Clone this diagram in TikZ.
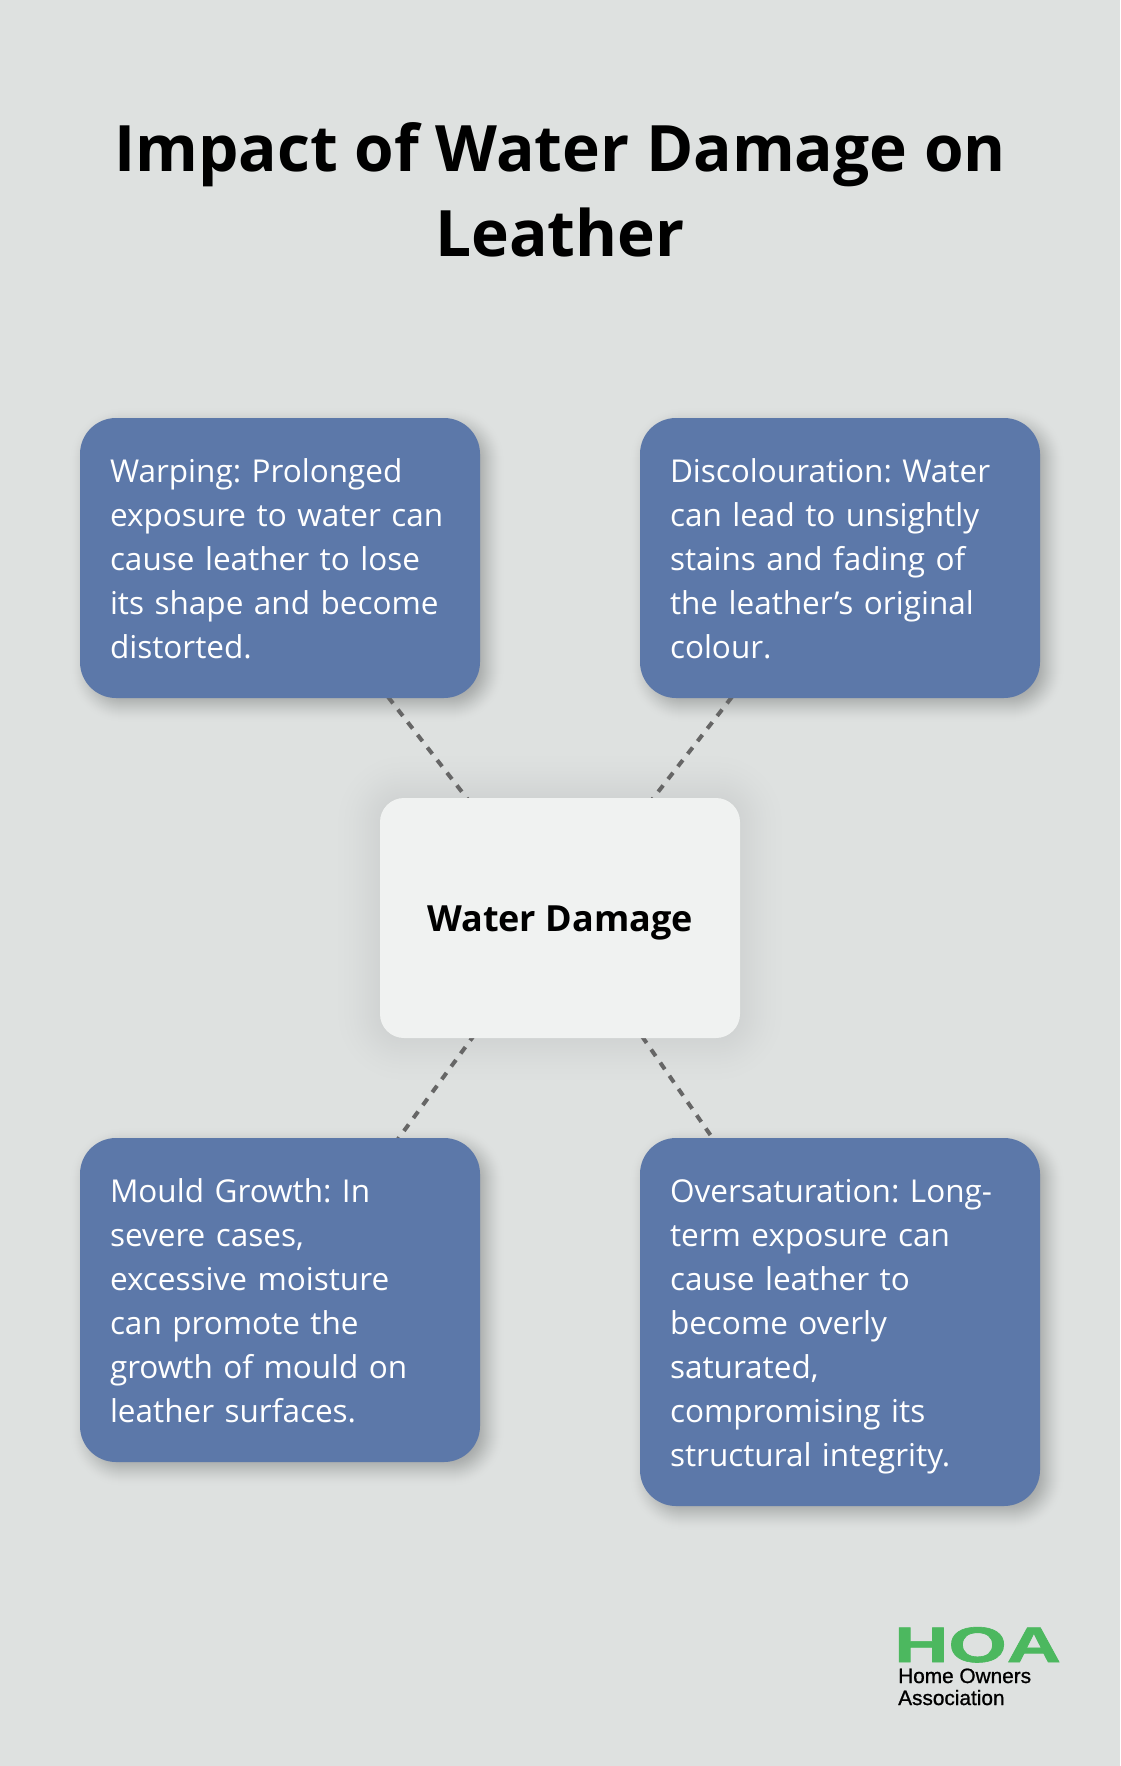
\documentclass[tikz,border=0pt]{standalone}
\usepackage{fontspec}
\setmainfont{Open Sans}
\newfontfamily\logofont[FakeBold=1]{Liberation Sans}
\newfontfamily\logofontbig[FakeBold=1.2]{Liberation Sans Bold}
\pgfdeclarelayer{backlayer}
\pgfdeclarelayer{shadowlayer}
\pgfdeclarelayer{linelayer}
\pgfsetlayers{backlayer,shadowlayer,linelayer,main}
\definecolor{bgcol}{HTML}{DEE1E0}
\definecolor{bluecol}{HTML}{5C78A9}
\definecolor{centercol}{HTML}{F0F2F1}
\definecolor{dashcol}{HTML}{666666}
\definecolor{logogreen}{HTML}{4CB85F}
\definecolor{blueshade}{HTML}{A0A3A2}
\definecolor{centershade}{HTML}{C4C7C7}
\tikzset{
  x=1pt,y=-1pt,
  bluebox/.style={rectangle,rounded corners=36pt,fill=bluecol,text=white,minimum width=400pt,
    text width=340pt,inner xsep=30pt,inner ysep=0pt,align=left,font=\fontsize{31.5}{44}\selectfont\frenchspacing,
    execute at begin node={\rule{0pt}{34pt}},execute at end node={\rule[-10pt]{0pt}{10pt}}},
  centerbox/.style={rectangle,rounded corners=24pt,fill=centercol,text=black,minimum width=360pt,minimum height=240pt,
    inner sep=0pt,align=center,font=\fontsize{36}{44}\selectfont\bfseries},
  titletext/.style={align=center,font=\fontsize{64}{85}\selectfont\bfseries,text=black,inner sep=0pt},
  linker/.style={draw=dashcol,line width=4pt,dash pattern=on 8pt off 8pt},
  logobig/.style={anchor=base west,inner sep=0pt,text=logogreen,font=\fontsize{50}{50}\selectfont\logofontbig,xscale=1.5},
  logosmall/.style={anchor=base west,inner sep=0pt,text=black,font=\fontsize{20.8}{20.8}\selectfont\logofont}
}
% node, dx, dy, half width of the blur, radius, colour: a smooth opaque ramp round the shifted node outline
\newcommand{\softshadow}[6]{%
  \begin{pgfonlayer}{shadowlayer}
  \pgfmathtruncatemacro{\nsteps}{2*#4}
  \foreach \k in {0,...,\nsteps}{
    \pgfmathsetmacro{\i}{#4-\k}
    \pgfmathsetmacro{\t}{\k/\nsteps}
    \pgfmathsetmacro{\w}{100*\t*\t*(3-2*\t)}
    \pgfmathsetmacro{\r}{max(1,#5+\i)}
    \fill[#6!\w!bgcol,rounded corners=\r pt]
      ([shift={(#2-\i,#3+\i)}]#1.south west) rectangle ([shift={(#2+\i,#3-\i)}]#1.north east);
  }
  \end{pgfonlayer}}
\begin{document}
\begin{tikzpicture}
\begin{pgfonlayer}{backlayer}
\path[use as bounding box,fill=bgcol] (0,0) rectangle (1120,1766);
\end{pgfonlayer}
\node[titletext] (title) at (560,189.5) {Impact of Water Damage on\\Leather};
\node[bluebox,minimum height=280pt] (warp) at (280,558) {Warping: Prolonged\\exposure to water can\\cause leather to lose\\its shape and become\\distorted.};
\node[bluebox,minimum height=280pt] (disc) at (840,558) {Discolouration: Water\\can lead to unsightly\\stains and fading of\\the leather's original\\colour.};
\node[bluebox,minimum height=324pt] (mould) at (280,1300) {Mould Growth: In\\severe cases,\\excessive moisture\\can promote the\\growth of mould on\\leather surfaces.};
\node[bluebox,minimum height=368pt] (over) at (840,1322) {Oversaturation: Long-\\term exposure can\\cause leather to\\become overly\\saturated,\\compromising its\\structural integrity.};
\node[centerbox] (water) at (560,918) {\raisebox{0pt}[30pt][2.6pt]{Water Damage}};
\softshadow{warp}{7}{7}{18}{36}{blueshade}
\softshadow{disc}{7}{7}{18}{36}{blueshade}
\softshadow{mould}{7}{7}{18}{36}{blueshade}
\softshadow{over}{7}{7}{18}{36}{blueshade}
\softshadow{water}{0}{0}{50}{24}{centershade}
\begin{pgfonlayer}{linelayer}
\draw[linker] (water.center) -- (warp.center);
\draw[linker] (water.center) -- (disc.center);
\draw[linker] (water.center) -- (mould.center);
\draw[linker] (water.center) -- (over.center);
\end{pgfonlayer}
\node[logobig] (logoa) at (894,1662) {HOA};
\node[logosmall] (logob) at (898,1683) {Home Owners};
\node[logosmall] (logoc) at (898,1705) {Association};
\end{tikzpicture}
\end{document}
